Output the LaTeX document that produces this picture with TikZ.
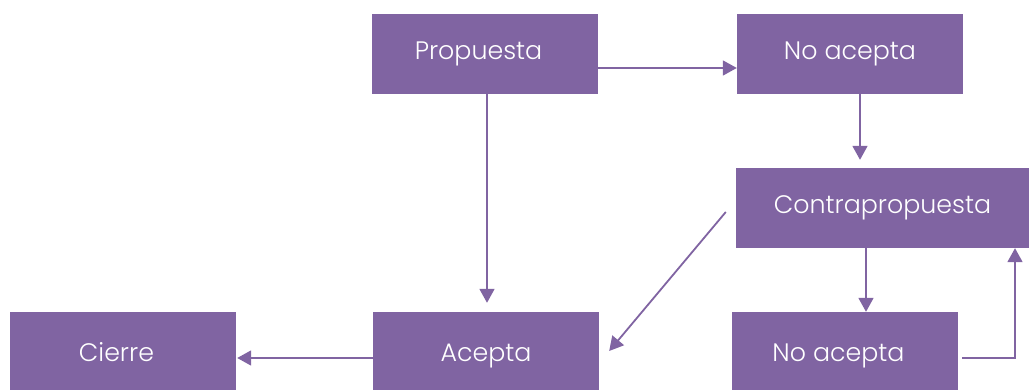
\documentclass[tikz,border=0pt]{standalone}
\usepackage{fontspec}
\setmainfont{Poppins}[UprightFont=* Light]
\usepackage{tikz}
\usetikzlibrary{arrows.meta,positioning}

\definecolor{lila}{HTML}{8064A2}

\tikzset{
    caja/.style={fill=lila, text=white, minimum width=226pt, minimum height=80pt,
        inner sep=0pt, font=\fontsize{25.3}{28}\selectfont},
    izq/.style={execute at begin node={\hspace*{-13pt}}},
    abajo/.style={minimum height=78pt, text height=25pt, text depth=5pt},
    flecha/.style={draw=lila, line width=1.8pt, -{Triangle[width=15pt,length=14pt]}}
}

\begin{document}
\begin{tikzpicture}[x=1pt, y=-1pt]
        \useasboundingbox (0,0) rectangle (1029,390);
        % Cajas
        \node[caja, izq] (prop) at (485,54) {Propuesta};
        \node[caja] (noa) at (850,54) {No acepta};
        \node[caja, minimum width=293pt] (contra) at (882.5,208) {Contrapropuesta};
        \node[caja, izq, abajo] (cierre) at (123,351) {Cierre};
        \node[caja, abajo] (acepta) at (486,351) {Acepta};
        \node[caja, izq, abajo] (nob) at (845,351) {No acepta};
        % Flechas
        \draw[flecha] ([yshift=-14pt]prop.east) -- ([yshift=-14pt]noa.west);
        \draw[flecha] ([xshift=2pt]prop.south) -- ([xshift=1pt,yshift=9pt]acepta.north);
        \draw[flecha] ([xshift=10pt]noa.south) -- ([xshift=10pt,yshift=8pt]noa.south |- contra.north);
        \draw[flecha] ([xshift=-10pt,yshift=-4pt]contra.west) -- ([xshift=10pt]acepta.east);
        \draw[flecha] ([xshift=-16.5pt]contra.south) -- ([xshift=-16.5pt]contra.south |- nob.north);
        \draw[flecha] ([xshift=4pt,yshift=-7pt]nob.east) -| ([xshift=132.5pt]contra.south);
        \draw[flecha] ([yshift=-7pt]acepta.west) -- ([xshift=1pt,yshift=-7pt]cierre.east);
    \end{tikzpicture}
\end{document}
